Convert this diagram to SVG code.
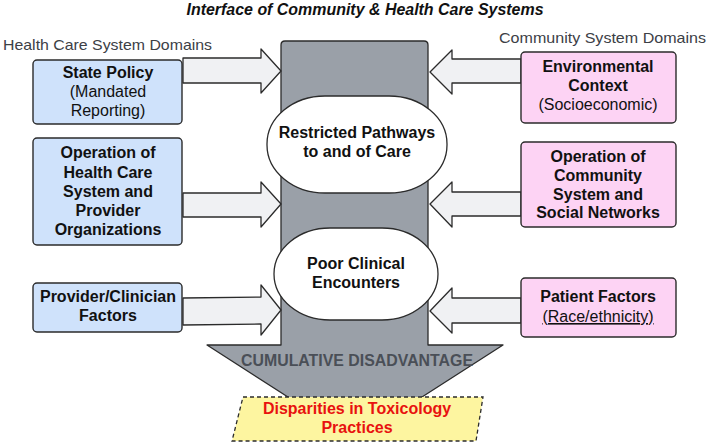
<svg xmlns="http://www.w3.org/2000/svg" width="709" height="446" viewBox="0 0 709 446">
<style>
text{font-family:"Liberation Sans",Arial,sans-serif;}
.t{font-size:16px;fill:#111;text-anchor:middle;}
.b{font-weight:bold;}
.hdr{font-size:15px;fill:#3c4046;}
.blue{fill:#cfe2fb;stroke:#2b2b2b;stroke-width:1.4;}
.pink{fill:#fdd3f4;stroke:#2b2b2b;stroke-width:1.4;}
.arr{fill:#f0f1f3;stroke:#2b2b2b;stroke-width:1.3;stroke-linejoin:round;}
.ell{fill:#fff;stroke:#2b2b2b;stroke-width:1.3;}
</style>
<rect width="709" height="446" fill="#fff"/>
<text x="365" y="15" textLength="357" lengthAdjust="spacingAndGlyphs" style="font-size:16px;font-weight:bold;font-style:italic;fill:#111;text-anchor:middle">Interface of Community &amp; Health Care Systems</text>
<text class="hdr" x="3" y="50" textLength="209" lengthAdjust="spacingAndGlyphs">Health Care System Domains</text>
<text class="hdr" x="499" y="43" textLength="207" lengthAdjust="spacingAndGlyphs">Community System Domains</text>

<g id="cumulative-arrow">
<path d="M285,41 L424,41 Q428,41 428,45 L428,345 L503,345 L355,440 L207,345 L281,345 L281,45 Q281,41 285,41 Z" fill="#9aa0a8" stroke="#2b2b2b" stroke-width="1.3" stroke-linejoin="round"/>
<text x="357" y="366" textLength="232" lengthAdjust="spacingAndGlyphs" style="font-size:17px;font-weight:bold;fill:#4a4f57;text-anchor:middle">CUMULATIVE DISADVANTAGE</text>
</g>

<g id="connectors">
<path class="arr" d="M183,58 L261,58 L261,49 L281,71 L261,93 L261,83 L183,83 Z"/>
<path class="arr" d="M183,193 L261,193 L261,182 L281,204 L261,227 L261,217 L183,217 Z"/>
<path class="arr" d="M183,298 L261,297 L261,285 L281,310 L261,335 L261,324 L183,325 Z"/>
<path class="arr" d="M521,59 L452,59 L452,50 L430,72 L452,94 L452,83 L521,83 Z"/>
<path class="arr" d="M521,192 L452,192 L452,182 L430,204 L452,227 L452,216 L521,216 Z"/>
<path class="arr" d="M521,298 L452,298 L452,288 L430,311 L452,333 L452,323 L521,323 Z"/>
</g>

<g id="state-policy">
<rect class="blue" x="33" y="60" width="149" height="64" rx="4"/>
<text class="t b" x="108" y="78">State Policy</text>
<text class="t" x="108" y="97">(Mandated</text>
<text class="t" x="108" y="116">Reporting)</text>
</g>
<g id="operation-health">
<rect class="blue" x="33" y="138" width="149" height="107" rx="4"/>
<text class="t b" x="108" y="158">Operation of</text>
<text class="t b" x="108" y="178">Health Care</text>
<text class="t b" x="108" y="197">System and</text>
<text class="t b" x="108" y="216">Provider</text>
<text class="t b" x="108" y="235">Organizations</text>
</g>
<g id="provider-factors">
<rect class="blue" x="33" y="283" width="149" height="49" rx="4"/>
<text class="t b" x="108" y="302">Provider/Clinician</text>
<text class="t b" x="108" y="321">Factors</text>
</g>

<g id="environmental">
<rect class="pink" x="521" y="52" width="155" height="71" rx="4"/>
<text class="t b" x="598" y="72">Environmental</text>
<text class="t b" x="598" y="91">Context</text>
<text class="t" x="598" y="110">(Socioeconomic)</text>
</g>
<g id="operation-community">
<rect class="pink" x="521" y="142" width="155" height="85" rx="4"/>
<text class="t b" x="598" y="162">Operation of</text>
<text class="t b" x="598" y="181">Community</text>
<text class="t b" x="598" y="200">System and</text>
<text class="t b" x="598" y="218">Social Networks</text>
</g>
<g id="patient-factors">
<rect class="pink" x="521" y="278" width="155" height="59" rx="4"/>
<text class="t b" x="598" y="302">Patient Factors</text>
<text class="t" x="598" y="322" text-decoration="underline">(Race/ethnicity)</text>
</g>

<g id="restricted-pathways">
<rect class="ell" x="267" y="96" width="180" height="97" rx="58" ry="48"/>
<text class="t b" x="357" y="138">Restricted Pathways</text>
<text class="t b" x="357" y="157">to and of Care</text>
</g>
<g id="poor-clinical">
<rect class="ell" x="274" y="228" width="164" height="92" rx="56" ry="46"/>
<text class="t b" x="356" y="269">Poor Clinical</text>
<text class="t b" x="356" y="288">Encounters</text>
</g>

<g id="disparities">
<path d="M243,397 L483,397 L476,441 L232,441 Z" fill="#fdf5a0" stroke="#2b2b2b" stroke-width="1.3" stroke-dasharray="4 3"/>
<text class="t b" x="357" y="414" style="fill:#e8120f">Disparities in Toxicology</text>
<text class="t b" x="357" y="433" style="fill:#e8120f">Practices</text>
</g>
</svg>
